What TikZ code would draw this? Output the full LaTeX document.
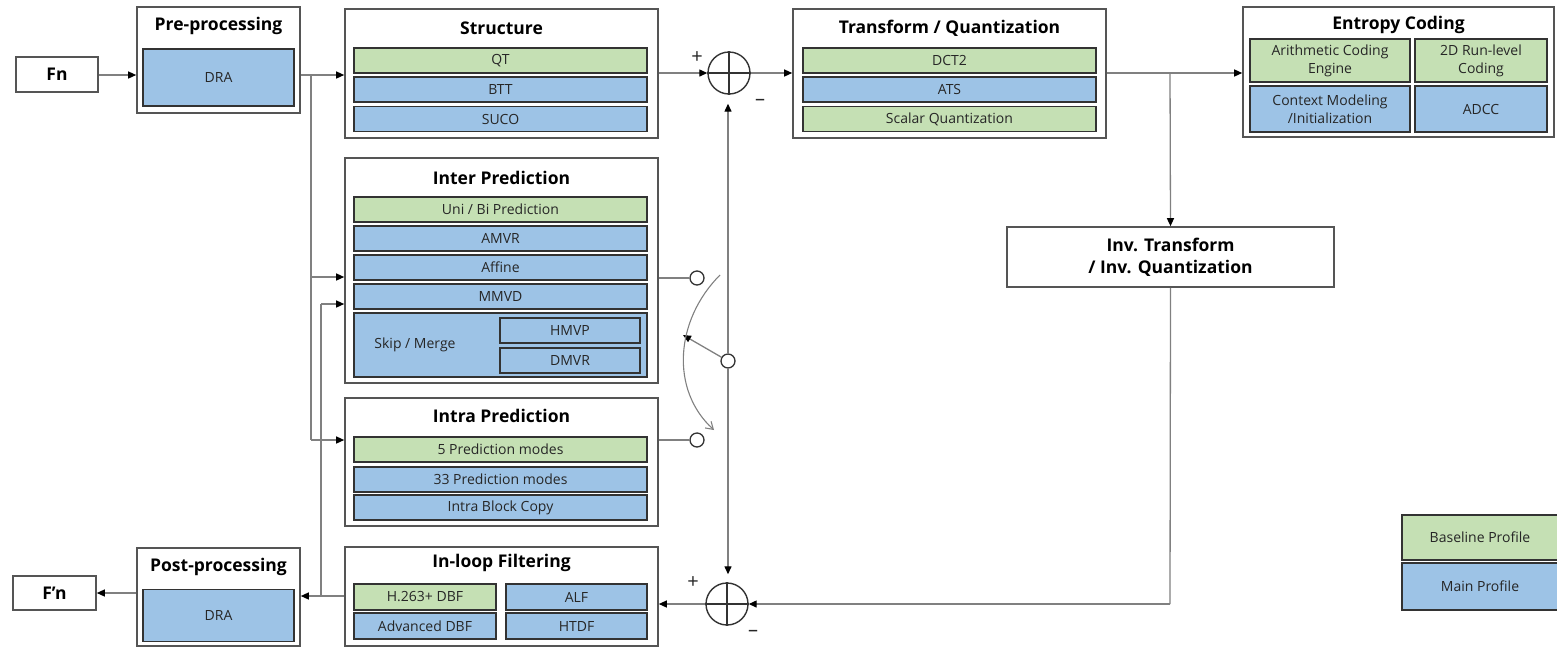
\documentclass[tikz,border=0pt]{standalone}
\usepackage{fontspec}
\setmainfont{Open Sans}
\usetikzlibrary{arrows.meta,calc}
\definecolor{basegreen}{HTML}{C5E0B4}
\definecolor{mainblue}{HTML}{9DC3E6}
\definecolor{celledge}{HTML}{333333}
\definecolor{boxedge}{HTML}{555555}
\definecolor{wirec}{HTML}{808080}

\begin{document}
\begin{tikzpicture}[x=1pt,y=-1pt,
  outer/.style={draw=boxedge, line width=1.6pt, fill=white, inner sep=0pt},
  hdr/.style={font=\bfseries\fontsize{17.5}{22}\selectfont, text=black, align=center},
  cell/.style={draw=celledge, line width=1.8pt, inner sep=0pt, align=center,
               font=\fontsize{14}{18}\selectfont, text=black!85},
  basecell/.style={cell, fill=basegreen},
  maincell/.style={cell, fill=mainblue},
  wire/.style={draw=wirec, line width=1.3pt},
  arr/.style={wire, -{Triangle[length=8pt,width=7pt,color=black]}},
  adder/.style={circle, draw=black!80, line width=1.4pt, minimum size=42pt, inner sep=0pt, fill=white},
  tap/.style={circle, draw=black!80, line width=1.3pt, minimum size=14pt, inner sep=0pt, fill=white},
  sign/.style={font=\fontsize{20}{22}\selectfont, inner sep=0pt, text=black!85}
]
\useasboundingbox (0,0) rectangle (1557,649);

% ---------- input / output frames ----------
\node[outer, minimum width=82pt, minimum height=35pt, hdr] (fn) at (57,74.5) {Fn};
\node[outer, minimum width=83pt, minimum height=34pt, hdr] (fout) at (54.5,593) {F’n};

% ---------- pre-processing ----------
\node[outer, minimum width=163pt, minimum height=106pt] (pre) at (218.5,60) {};
\node[hdr] (preT) at (218.5,26) {Pre-processing};
\node[maincell, minimum width=151pt, minimum height=57pt] (preD) at (218.5,77.5) {DRA};

% ---------- post-processing ----------
\node[outer, minimum width=163pt, minimum height=98pt] (post) at (218.5,597) {};
\node[hdr] (postT) at (218.5,567) {Post-processing};
\node[maincell, minimum width=151pt, minimum height=52pt] (postD) at (218.5,615.5) {DRA};

% ---------- structure ----------
\node[outer, minimum width=313pt, minimum height=129pt] (st) at (501.5,73.5) {};
\node[hdr] (stT) at (501.5,28) {Structure};
\node[basecell, minimum width=293pt, minimum height=25pt] (qt) at (500.5,60.5) {QT};
\node[maincell, minimum width=293pt, minimum height=25pt] (btt) at (500.5,89.5) {BTT};
\node[maincell, minimum width=293pt, minimum height=25pt] (suco) at (500.5,119) {SUCO};

% ---------- transform / quantization ----------
\node[outer, minimum width=313pt, minimum height=129pt] (tq) at (949.5,73.5) {};
\node[hdr] (tqT) at (949.5,28) {Transform / Quantization};
\node[basecell, minimum width=293pt, minimum height=25pt] (dct) at (949.5,60.5) {DCT2};
\node[maincell, minimum width=293pt, minimum height=25pt] (ats) at (949.5,89.5) {ATS};
\node[basecell, minimum width=293pt, minimum height=25pt] (sq) at (949.5,119) {Scalar Quantization};

% ---------- entropy coding ----------
\node[outer, minimum width=311pt, minimum height=130pt] (ec) at (1398.5,72) {};
\node[hdr] (ecT) at (1398.5,25) {Entropy Coding};
\node[basecell, minimum width=160pt, minimum height=43pt] (ace) at (1330,60.5) {Arithmetic Coding\\Engine};
\node[basecell, minimum width=132pt, minimum height=43pt] (rl) at (1481,60.5) {2D Run-level\\Coding};
\node[maincell, minimum width=160pt, minimum height=46pt] (cm) at (1330,109) {Context Modeling\\/Initialization};
\node[maincell, minimum width=132pt, minimum height=46pt] (adcc) at (1481,109) {ADCC};

% ---------- inverse transform ----------
\node[outer, minimum width=327pt, minimum height=60pt, hdr] (inv) at (1170.5,257) {Inv. Transform\\/ Inv. Quantization};

% ---------- inter prediction ----------
\node[outer, minimum width=313pt, minimum height=225pt] (inter) at (501.5,270.5) {};
\node[hdr] (interT) at (501.5,178) {Inter Prediction};
\node[basecell, minimum width=293pt, minimum height=25pt] (uni) at (500.5,209.5) {Uni / Bi Prediction};
\node[maincell, minimum width=293pt, minimum height=25pt] (amvr) at (500.5,238.5) {AMVR};
\node[maincell, minimum width=293pt, minimum height=25pt] (aff) at (500.5,267.5) {Affine};
\node[maincell, minimum width=293pt, minimum height=25pt] (mmvd) at (500.5,296.5) {MMVD};
\node[maincell, minimum width=293pt, minimum height=64pt] (skip) at (500.5,345) {};
\node[cell, draw=none, fill=none] (skipT) at (415,345) {Skip / Merge};
\node[maincell, minimum width=140pt, minimum height=25pt] (hmvp) at (570,330.5) {HMVP};
\node[maincell, minimum width=140pt, minimum height=25pt] (dmvr) at (570,360.5) {DMVR};

% ---------- intra prediction ----------
\node[outer, minimum width=313pt, minimum height=128pt] (intra) at (501.5,462) {};
\node[hdr] (intraT) at (501.5,416) {Intra Prediction};
\node[basecell, minimum width=293pt, minimum height=25pt] (p5) at (500.5,449.5) {5 Prediction modes};
\node[maincell, minimum width=293pt, minimum height=25pt] (p33) at (500.5,479.5) {33 Prediction modes};
\node[maincell, minimum width=293pt, minimum height=25pt] (ibc) at (500.5,507.5) {Intra Block Copy};

% ---------- in-loop filtering ----------
\node[outer, minimum width=313pt, minimum height=99pt] (ilf) at (501.5,596.5) {};
\node[hdr] (ilfT) at (501.5,563) {In-loop Filtering};
\node[basecell, minimum width=142pt, minimum height=26pt] (dbf) at (425,597) {H.263+ DBF};
\node[maincell, minimum width=141pt, minimum height=26pt] (alf) at (576.5,597) {ALF};
\node[maincell, minimum width=142pt, minimum height=26pt] (adbf) at (425,626) {Advanced DBF};
\node[maincell, minimum width=141pt, minimum height=26pt] (htdf) at (576.5,626) {HTDF};

% ---------- legend ----------
\node[basecell, minimum width=156pt, minimum height=45pt] (lgB) at (1480,537.5) {Baseline Profile};
\node[maincell, minimum width=156pt, minimum height=47pt] (lgM) at (1480,586.5) {Main Profile};

% ---------- adders and mode switch ----------
\node[adder] (add1) at (729,73) {};
\draw[black!80, line width=1.2pt] (add1.north) -- (add1.south) (add1.west) -- (add1.east);
\node[adder] (add2) at (727,604) {};
\draw[black!80, line width=1.2pt] (add2.north) -- (add2.south) (add2.west) -- (add2.east);
\node[sign] (p1) at (697,58) {+};
\node[sign] (m1) at (760,102) {–};
\node[sign] (p2) at (693,583) {+};
\node[sign] (m2) at (753,633) {–};

\node[tap] (swA) at (697,278) {};
\node[tap] (swB) at (697,440) {};
\node[tap] (piv) at (728,361) {};
\coordinate (armTip) at (683,335);
\coordinate (arcA) at (720,275);
\coordinate (arcB) at (714,430);

% ---------- connectors ----------
\coordinate (j1) at (311,75);
\coordinate (j2) at (1170,73);
\coordinate (j3) at (321,596);
\coordinate (j4) at (1170,604);

\draw[arr] (fn.east |- j1) -- (pre.west |- j1);
\draw[arr] (pre.east |- j1) -- (st.west |- j1);
\draw[wire] (j1) -- (j1 |- 0,440);
\draw[arr] (j1 |- 0,440) -- (intra.west |- 0,440);
\draw[arr] (j1 |- 0,277) -- (inter.west |- 0,277);

\draw[arr] (st.east |- add1) -- (add1.west);
\draw[arr] (add1.east) -- (tq.west |- add1);
\draw[arr] (tq.east |- j2) -- (ec.west |- j2);
\draw[arr] (j2) -- (inv.north);
\draw[wire] (inv.south) -- (j4);
\draw[arr] (j4) -- (add2.east);
\draw[arr] (add2.west) -- (ilf.east |- add2);

\draw[arr] (ilf.west |- j3) -- (post.east |- j3);
\draw[wire] (j3) -- (j3 |- 0,304);
\draw[arr] (j3 |- 0,304) -- (inter.west |- 0,304);
\draw[arr] (post.west |- 0,593) -- (fout.east |- 0,593);

\draw[wire] (inter.east |- swA) -- (swA.west);
\draw[wire] (intra.east |- swB) -- (swB.west);
\draw[arr, shorten >=9pt] (piv.north) -- (piv.north |- add1.south);
\draw[arr, shorten >=8pt] (piv.south) -- (piv.south |- add2.north);
\draw[arr] (piv) -- (armTip);
\draw[draw=wirec, line width=1.1pt, -{Straight Barb[length=7pt,width=9pt]}]
  (arcA) .. controls (675,320) and (670,390) .. (arcB);
\end{tikzpicture}
\end{document}
